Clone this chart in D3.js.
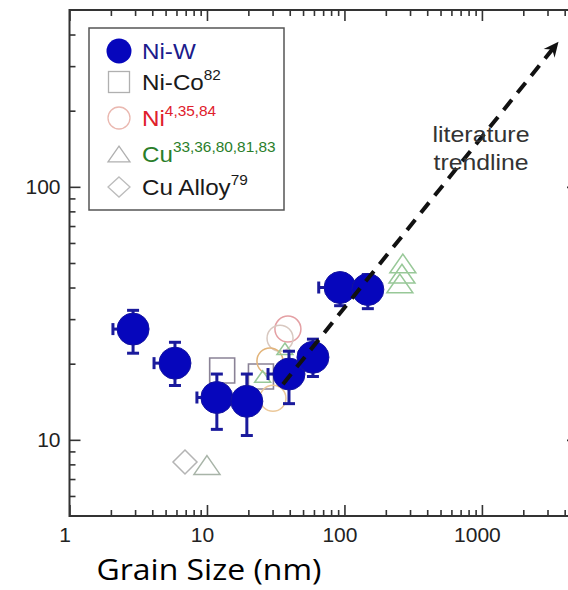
<!DOCTYPE html>
<html>
<head>
<meta charset="utf-8" />
<title>Grain size</title>
<script src="https://d3js.org/d3.v7.min.js"></script>
<style>
  body { margin: 0; background: #fff; }
  svg { display: block; }
  .tick text { font-family: "Liberation Sans", Arial, sans-serif; }
</style>
</head>
<body>
<svg width="568" height="590"></svg>
<script>
// Ni-W (this work) with error bars
var niwX = [2.9, 5.85, 11.8, 19.5, 39.5, 59, 93, 148];
var niwY = [27.4, 20.1, 14.7, 14.2, 18.2, 21.2, 40, 39.3];
var niwYLo = [22, 16.4, 11.0, 10.4, 13.9, 17.8, 33.9, 33];
var niwYHi = [32.5, 24.3, 18.2, 18.2, 22.4, 25, 45, 45];
var niwXLo = [2.07, 4.12, 8.45, 15.6, 27.8, 47, 65, 118];

// literature data
var nicoX = [12.9, 24.7];
var nicoY = [18.8, 17.8];
var niX = [38.8, 34, 28.7, 30.2];
var niY = [27.4, 25.2, 20.5, 14.6];
var cuX = [10, 266, 262, 253, 36.9, 25.4];
var cuY = [7.95, 49.8, 45.4, 41.5, 22.9, 17.8];
var alloyX = [6.92];
var alloyY = [8.17];

// trendline arrow (start, end)
var trendX = [35.7, 3570];
var trendY = [16.6, 372];

var xMajor = [1, 10, 100, 1000];
var xMinor = [2, 3, 4, 5, 6, 7, 8, 9, 20, 30, 40, 50, 60, 70, 80, 90,
              200, 300, 400, 500, 600, 700, 800, 900, 2000, 3000, 4000];
var yMajor = [10, 100];
var yMinor = [6, 7, 8, 9, 20, 30, 40, 50, 60, 70, 80, 90, 200, 300, 400];

var legendNames = ["Ni-W", "Ni-Co", "Ni", "Cu", "Cu Alloy"];
var legendSups = ["", "82", "4,35,84", "33,36,80,81,83", "79"];

var svg = d3.select("svg");
var pLeft = 69.5, pRight = 578, pTop = 10, pBottom = 516;

var x = d3.scaleLog().domain([1, 5000]).range([pLeft, pRight]);
var y = d3.scaleLog().domain([5, 500]).range([pBottom, pTop]);

svg.append("rect").attr("width", 568).attr("height", 590).attr("fill", "#fff");

// axes (ticks pointing inward)
function axisGroup(axis, tx, ty) {
  var g = svg.append("g").attr("transform", "translate(" + tx + "," + ty + ")").call(axis);
  g.select(".domain").remove();
  g.selectAll("line").attr("stroke", "#333").attr("stroke-width", 1.6);
  return g;
}
axisGroup(d3.axisBottom(x).tickValues(xMinor).tickSize(-6).tickFormat(""), 0, pBottom);
axisGroup(d3.axisTop(x).tickValues(xMinor).tickSize(-6).tickFormat(""), 0, pTop);
axisGroup(d3.axisLeft(y).tickValues(yMinor).tickSize(-6).tickFormat(""), pLeft, 0);
axisGroup(d3.axisRight(y).tickValues(yMinor).tickSize(-6).tickFormat(""), pRight, 0);

var xb = axisGroup(d3.axisBottom(x).tickValues(xMajor).tickSize(-11).tickPadding(11).tickFormat(d3.format("d")), 0, pBottom);
xb.selectAll("text").attr("font-size", 21).attr("fill", "#222").attr("dx", -5);
axisGroup(d3.axisTop(x).tickValues(xMajor).tickSize(-11).tickFormat(""), 0, pTop);
var yl = axisGroup(d3.axisLeft(y).tickValues(yMajor).tickSize(-11).tickPadding(9).tickFormat(d3.format("d")), pLeft, 0);
yl.selectAll("text").attr("font-size", 21).attr("fill", "#222");
axisGroup(d3.axisRight(y).tickValues(yMajor).tickSize(-11).tickFormat(""), pRight, 0);

// frame
svg.append("rect")
  .attr("x", pLeft).attr("y", pTop)
  .attr("width", pRight - pLeft).attr("height", pBottom - pTop)
  .attr("fill", "none").attr("stroke", "#333").attr("stroke-width", 2);

// marker shapes
var sqr = d3.symbol().type(d3.symbolSquare).size(625);
var tri = function (s) {
  return "M0," + (-s * 0.72) + "L" + s + "," + (s * 0.72) + "L" + (-s) + "," + (s * 0.72) + "Z";
};
var dia = "M0,-12L12,0L0,12L-12,0Z";

var lit = svg.append("g");

lit.selectAll(".nico").data(nicoX).enter().append("path")
  .attr("d", sqr)
  .attr("transform", function (d, i) { return "translate(" + x(d) + "," + y(nicoY[i]) + ")"; })
  .attr("fill", "none").attr("stroke", "#8a8296").attr("stroke-width", 1.6);

var niColors = ["#e4a0a4", "#d8c8c0", "#e2b47a", "#ecc89a"];
lit.selectAll(".ni").data(niX).enter().append("circle")
  .attr("cx", function (d) { return x(d); })
  .attr("cy", function (d, i) { return y(niY[i]); })
  .attr("r", 13)
  .attr("fill", "none")
  .attr("stroke", function (d, i) { return niColors[i]; })
  .attr("stroke-width", 1.5);

lit.selectAll(".cu").data(cuX).enter().append("path")
  .attr("d", function (d, i) { return i > 3 ? tri(8) : tri(13); })
  .attr("transform", function (d, i) { return "translate(" + x(d) + "," + y(cuY[i]) + ")"; })
  .attr("fill", "none")
  .attr("stroke", function (d, i) { return i === 0 ? "#a8b4a8" : "#98c898"; })
  .attr("stroke-width", 1.5);

lit.selectAll(".alloy").data(alloyX).enter().append("path")
  .attr("d", dia)
  .attr("transform", function (d, i) { return "translate(" + x(d) + "," + y(alloyY[i]) + ")"; })
  .attr("fill", "none").attr("stroke", "#b4b4b4").attr("stroke-width", 1.5);

// Ni-W points with error bars
var eb = "#1a1a9c";
var niw = svg.append("g");
niwX.forEach(function (d, i) {
  var cx = x(d), cy = y(niwY[i]);
  var g = niw.append("g");
  g.append("line").attr("x1", cx).attr("x2", cx).attr("y1", y(niwYLo[i])).attr("y2", y(niwYHi[i]))
    .attr("stroke", eb).attr("stroke-width", 3);
  g.append("line").attr("x1", cx - 6).attr("x2", cx + 6).attr("y1", y(niwYLo[i])).attr("y2", y(niwYLo[i]))
    .attr("stroke", eb).attr("stroke-width", 3);
  g.append("line").attr("x1", cx - 6).attr("x2", cx + 6).attr("y1", y(niwYHi[i])).attr("y2", y(niwYHi[i]))
    .attr("stroke", eb).attr("stroke-width", 3);
  g.append("line").attr("x1", x(niwXLo[i])).attr("x2", cx).attr("y1", cy).attr("y2", cy)
    .attr("stroke", eb).attr("stroke-width", 3);
  g.append("line").attr("x1", x(niwXLo[i])).attr("x2", x(niwXLo[i])).attr("y1", cy - 6).attr("y2", cy + 6)
    .attr("stroke", eb).attr("stroke-width", 3);
  g.append("circle").attr("cx", cx).attr("cy", cy).attr("r", 16)
    .attr("fill", "#0606bc").attr("stroke", "#1414a0").attr("stroke-width", 1);
});

// literature trendline
svg.append("defs").append("marker")
  .attr("id", "arrow").attr("viewBox", "-16 -8 18 16")
  .attr("refX", 0).attr("refY", 0)
  .attr("markerWidth", 18).attr("markerHeight", 16)
  .attr("markerUnits", "userSpaceOnUse")
  .attr("orient", "auto")
  .append("path")
  .attr("d", "M1,0L-14,-7L-9,0L-14,7Z")
  .attr("fill", "#111");

svg.append("line")
  .attr("x1", x(trendX[0])).attr("y1", y(trendY[0]))
  .attr("x2", x(trendX[1])).attr("y2", y(trendY[1]))
  .attr("stroke", "#111").attr("stroke-width", 4)
  .attr("stroke-dasharray", "13,9")
  .attr("marker-end", "url(#arrow)");

var lt = svg.append("text")
  .attr("font-family", "Liberation Sans, Arial, sans-serif")
  .attr("font-size", 22).attr("fill", "#333").attr("text-anchor", "middle");
lt.append("tspan").attr("x", 481).attr("y", 142)
  .attr("textLength", 97).attr("lengthAdjust", "spacingAndGlyphs").text("literature");
lt.append("tspan").attr("x", 481).attr("y", 170)
  .attr("textLength", 95).attr("lengthAdjust", "spacingAndGlyphs").text("trendline");

// legend
var lg = svg.append("g");
lg.append("rect").attr("x", 89).attr("y", 28).attr("width", 195).attr("height", 182)
  .attr("fill", "#fff").attr("stroke", "#555").attr("stroke-width", 1.5);

var legendColors = ["#1c1c8c", "#1a1a1a", "#e0202c", "#2a7e2a", "#1a1a1a"];
var rowY = [51, 82, 118, 154, 187];
legendNames.forEach(function (name, i) {
  var cy = rowY[i], cx = 119;
  if (i === 0) {
    lg.append("circle").attr("cx", cx).attr("cy", cy).attr("r", 12.5).attr("fill", "#0606bc");
  } else if (i === 1) {
    lg.append("rect").attr("x", cx - 10.5).attr("y", cy - 10.5).attr("width", 21).attr("height", 21)
      .attr("fill", "none").attr("stroke", "#b0b0b0").attr("stroke-width", 1.3);
  } else if (i === 2) {
    lg.append("circle").attr("cx", cx).attr("cy", cy).attr("r", 11)
      .attr("fill", "none").attr("stroke", "#eab8b0").attr("stroke-width", 1.3);
  } else if (i === 3) {
    lg.append("path").attr("d", tri(11)).attr("transform", "translate(" + cx + "," + cy + ")")
      .attr("fill", "none").attr("stroke", "#b0b0b0").attr("stroke-width", 1.3);
  } else {
    lg.append("path").attr("d", "M0,-10L11,0L0,10L-11,0Z").attr("transform", "translate(" + cx + "," + cy + ")")
      .attr("fill", "none").attr("stroke", "#bcbcbc").attr("stroke-width", 1.3);
  }
  var t = lg.append("text").attr("x", 0).attr("y", 0)
    .attr("transform", "translate(142," + (cy + 8) + ") scale(1.1,1)")
    .attr("font-family", "Liberation Sans, Arial, sans-serif")
    .attr("font-size", 22).attr("fill", legendColors[i]);
  t.append("tspan").text(name);
  if (legendSups[i]) {
    t.append("tspan").attr("font-size", 14).attr("dy", -10).text(legendSups[i]);
  }
});

// x axis title
svg.append("text")
  .attr("x", 209).attr("y", 580)
  .attr("text-anchor", "middle")
  .attr("font-family", "Open Sans, Noto Sans, sans-serif")
  .attr("font-size", 30).attr("fill", "#000")
  .attr("textLength", 225).attr("lengthAdjust", "spacingAndGlyphs")
  .text("Grain Size (nm)");
</script>
</body>
</html>
